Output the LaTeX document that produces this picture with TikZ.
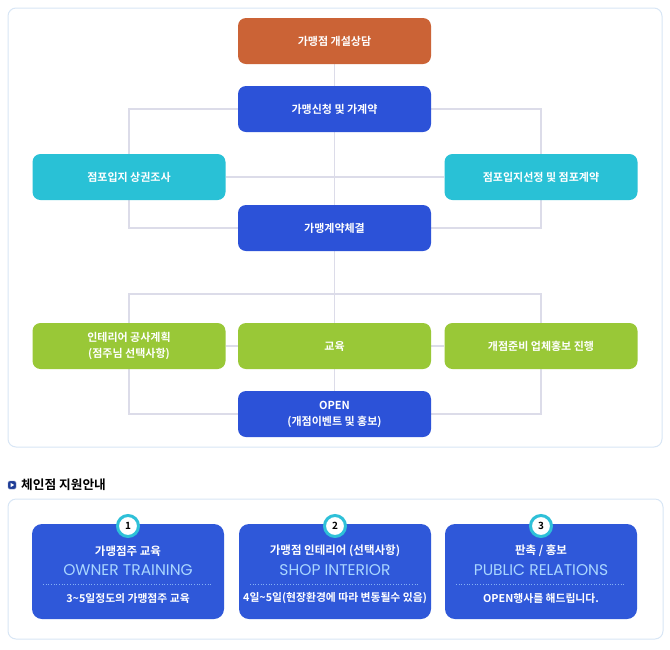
\documentclass[tikz,border=0pt]{standalone}
\usepackage{fontspec}
\setmainfont{Noto Sans CJK KR}[BoldFont={Noto Sans CJK KR Bold}]
\newfontfamily\engfont{Poppins}
\usetikzlibrary{calc,positioning}

\definecolor{boxorange}{HTML}{CB6336}
\definecolor{boxblue}{HTML}{2C52D8}
\definecolor{boxcyan}{HTML}{29C1D6}
\definecolor{boxgreen}{HTML}{99C837}
\definecolor{wiregray}{HTML}{DCDCE9}
\definecolor{panelline}{HTML}{D8E6F5}
\definecolor{cardblue}{HTML}{2F58D9}
\definecolor{englight}{HTML}{A9D6FF}
\definecolor{badgecyan}{HTML}{2EC0D8}
\definecolor{bulletnavy}{HTML}{1E3C96}

\pgfdeclarelayer{panel}
\pgfdeclarelayer{wires}
\pgfsetlayers{panel,wires,main}

\tikzset{
  stepbox/.style={rounded corners=8pt, minimum width=193pt, minimum height=46pt,
    inner sep=0pt, text=white, align=center,
    font=\bfseries\fontsize{11}{16}\selectfont},
  orangebox/.style={stepbox, fill=boxorange},
  bluebox/.style={stepbox, fill=boxblue},
  cyanbox/.style={stepbox, fill=boxcyan},
  greenbox/.style={stepbox, fill=boxgreen},
  wire/.style={draw=wiregray, line width=1.6pt},
  panelbox/.style={draw=panelline, fill=white, line width=1pt, rounded corners=8pt},
  card/.style={fill=cardblue, rounded corners=10pt, minimum width=192pt,
    minimum height=95pt, inner sep=0pt},
  cardtitle/.style={text=white, font=\bfseries\fontsize{11.5}{13}\selectfont, inner sep=0pt},
  cardeng/.style={text=englight, font=\engfont\fontsize{15.5}{17}\selectfont, inner sep=0pt},
  carddesc/.style={text=white, font=\bfseries\fontsize{10.8}{13}\selectfont, inner sep=0pt},
  cardsep/.style={draw=englight!70!cardblue, dotted, line width=0.7pt},
  numbadge/.style={circle, draw=badgecyan, line width=3pt, fill=white,
    minimum size=21pt, inner sep=0pt, font=\bfseries\fontsize{10}{11}\selectfont}
}

\begin{document}
\begin{tikzpicture}[x=1pt,y=-1pt]
  \useasboundingbox (0,0) rectangle (670,649);

  % 창업 절차
  \node[orangebox] (consult) at (334.5,41) {가맹점 개설상담};
  \node[bluebox] (apply) at (334.5,109) {가맹신청 및 가계약};
  \node[cyanbox] (survey) at (129,177) {점포입지 상권조사};
  \node[cyanbox] (select) at (541,177) {점포입지선정 및 점포계약};
  \node[bluebox] (contract) at (334.5,228) {가맹계약체결};
  \coordinate (split) at (334.5,294);
  \node[greenbox] (interior) at (129,346) {인테리어 공사계획\\(점주님 선택사항)};
  \node[greenbox] (edu) at (334.5,346) {교육};
  \node[greenbox] (prep) at (541,346) {개점준비 업체홍보 진행};
  \node[bluebox] (open) at (334.5,414) {OPEN\\(개점이벤트 및 홍보)};

  \begin{pgfonlayer}{panel}
    \draw[panelbox] (8,8) rectangle (662,447);
    \draw[panelbox] (8,499) rectangle (663,639);
  \end{pgfonlayer}

  % 연결선
  \begin{pgfonlayer}{wires}
    \draw[wire] (consult) -- (open);
    \draw[wire] (apply) -| (survey) |- (contract);
    \draw[wire] (apply) -| (select) |- (contract);
    \draw[wire] (survey) -- (select);
    \draw[wire] (interior) |- (split) -| (prep);
    \draw[wire] (interior) |- (open) -| (prep);
    \draw[wire] (interior) -- (prep);
  \end{pgfonlayer}

  % 체인점 지원안내
  \node[fill=bulletnavy, draw=bulletnavy!60, rounded corners=1.5pt, minimum size=8pt,
    inner sep=0pt] (bullet) at (12,485) {};
  \fill[white] ($(bullet.center)+(-1.5,-2.2)$) -- ($(bullet.center)+(2.2,0)$)
    -- ($(bullet.center)+(-1.5,2.2)$) -- cycle;
  \node[anchor=west, inner sep=0pt, font=\bfseries\fontsize{12.7}{15}\selectfont]
    (supporttitle) at (21,485) {체인점 지원안내};

  % 카드 1
  \node[card] (card1) at (128,571.5) {};
  \node[cardtitle] (title1) at (128,551) {가맹점주 교육};
  \node[cardeng] (eng1) at (128,570) {OWNER TRAINING};
  \draw[cardsep] ($(card1.west)+(11,12.5)$) -- ($(card1.east)+(-13,12.5)$);
  \node[carddesc] (desc1) at (128,598) {3\textasciitilde5일정도의 가맹점주 교육};
  \node[numbadge] (num1) at (128,526) {1};

  % 카드 2
  \node[card] (card2) at (335,571.5) {};
  \node[cardtitle] (title2) at (335,551) {가맹점 인테리어 (선택사항)};
  \node[cardeng] (eng2) at (335,570) {SHOP INTERIOR};
  \draw[cardsep] ($(card2.west)+(11,12.5)$) -- ($(card2.east)+(-13,12.5)$);
  \node[carddesc] (desc2) at (335,598) {4일\textasciitilde5일(현장환경에 따라 변동될수 있음)};
  \node[numbadge] (num2) at (335,526) {2};

  % 카드 3
  \node[card] (card3) at (541,571.5) {};
  \node[cardtitle] (title3) at (541,551) {판촉 / 홍보};
  \node[cardeng] (eng3) at (541,570) {PUBLIC RELATIONS};
  \draw[cardsep] ($(card3.west)+(11,12.5)$) -- ($(card3.east)+(-13,12.5)$);
  \node[carddesc] (desc3) at (541,598) {OPEN행사를 해드립니다.};
  \node[numbadge] (num3) at (541,526) {3};
\end{tikzpicture}
\end{document}
